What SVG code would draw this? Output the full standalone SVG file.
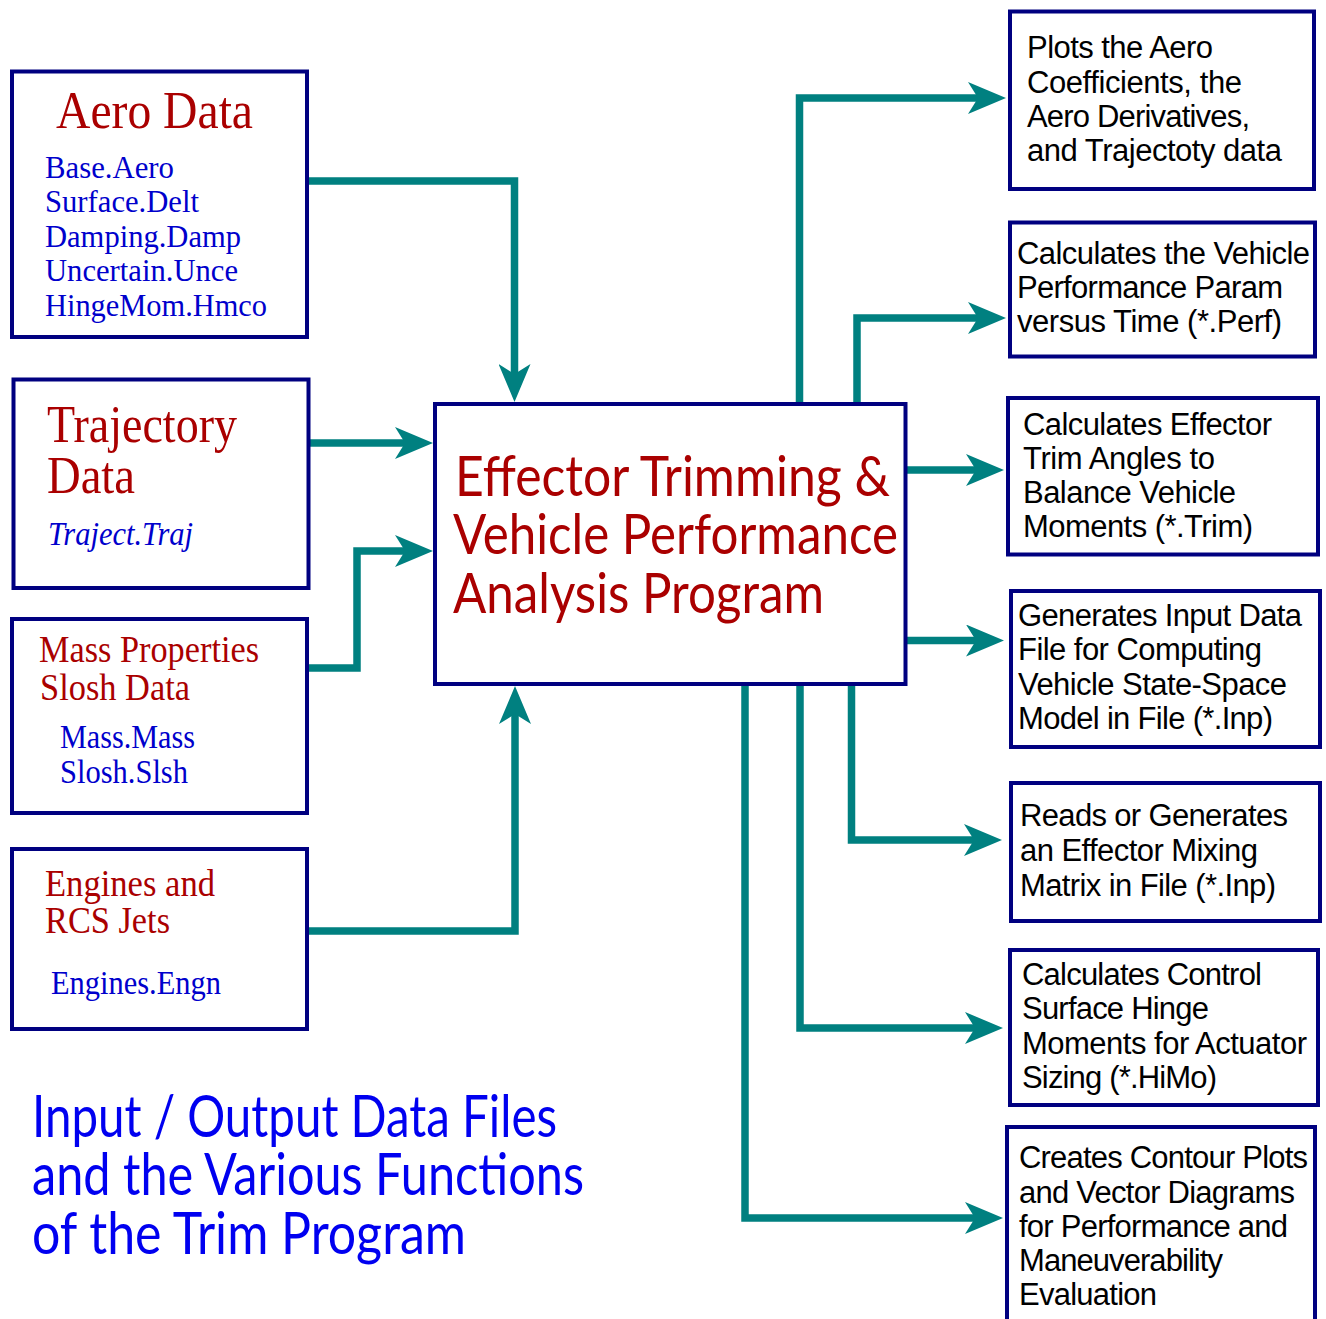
<svg xmlns="http://www.w3.org/2000/svg" width="1326" height="1319" viewBox="0 0 1326 1319">
<style>
.box{fill:#fff;stroke:#000080;stroke-width:4}
.con{fill:none;stroke:#008080;stroke-width:7.5;stroke-linejoin:miter;marker-end:url(#ah)}
.ser{font-family:"Liberation Serif","Times New Roman",serif}
.red{fill:#AA0000}
.blu{fill:#0000CC}
.ttl{font-family:Lato,"Open Sans",sans-serif}
.txt{font-family:"Liberation Sans",Arial,sans-serif;font-size:31px;fill:#000}
</style>
<defs>
<marker id="ah" viewBox="0 0 38 32" refX="10" refY="16" markerWidth="38" markerHeight="32" markerUnits="userSpaceOnUse" orient="auto">
<path d="M0,0 L38,16 L0,32 L10,16 Z" fill="#008080"/>
</marker>
</defs>
<rect width="1326" height="1319" fill="#fff"/>

<g id="connectors">
<path class="con" d="M309,181 H514.5 V374"/>
<path class="con" d="M310,443 H405"/>
<path class="con" d="M309,668 H357 V551 H405"/>
<path class="con" d="M309,931 H515 V714"/>
<path class="con" d="M799.5,404 V98 H978"/>
<path class="con" d="M857,404 V318 H978"/>
<path class="con" d="M907,470 H976"/>
<path class="con" d="M907,640.5 H976"/>
<path class="con" d="M851.5,684 V840 H974"/>
<path class="con" d="M800,684 V1028 H975"/>
<path class="con" d="M745,684 V1218 H975"/>
</g>

<g id="aero-data">
<rect class="box" x="12" y="71.5" width="295" height="265.5"/>
<text class="ser red" x="56" y="128" font-size="52" textLength="197" lengthAdjust="spacingAndGlyphs">Aero Data</text>
<g class="ser blu" font-size="32">
<text x="45" y="178" textLength="129" lengthAdjust="spacingAndGlyphs">Base.Aero</text>
<text x="45" y="212" textLength="154" lengthAdjust="spacingAndGlyphs">Surface.Delt</text>
<text x="45" y="247" textLength="196" lengthAdjust="spacingAndGlyphs">Damping.Damp</text>
<text x="45" y="281" textLength="193" lengthAdjust="spacingAndGlyphs">Uncertain.Unce</text>
<text x="45" y="316" textLength="222" lengthAdjust="spacingAndGlyphs">HingeMom.Hmco</text>
</g>
</g>

<g id="trajectory-data">
<rect class="box" x="13.5" y="379.5" width="295" height="208.5"/>
<text class="ser red" x="47" y="442" font-size="52" textLength="190" lengthAdjust="spacingAndGlyphs">Trajectory</text>
<text class="ser red" x="47" y="493" font-size="52" textLength="88" lengthAdjust="spacingAndGlyphs">Data</text>
<text class="ser blu" x="48" y="545" font-size="33" font-style="italic" textLength="145" lengthAdjust="spacingAndGlyphs">Traject.Traj</text>
</g>

<g id="mass-properties">
<rect class="box" x="12" y="619" width="295" height="194"/>
<text class="ser red" x="39" y="662" font-size="38" textLength="220" lengthAdjust="spacingAndGlyphs">Mass Properties</text>
<text class="ser red" x="40" y="700" font-size="38" textLength="150" lengthAdjust="spacingAndGlyphs">Slosh Data</text>
<text class="ser blu" x="60" y="748" font-size="33" textLength="135" lengthAdjust="spacingAndGlyphs">Mass.Mass</text>
<text class="ser blu" x="60" y="783" font-size="33" textLength="128" lengthAdjust="spacingAndGlyphs">Slosh.Slsh</text>
</g>

<g id="engines">
<rect class="box" x="12" y="849" width="295" height="180"/>
<text class="ser red" x="45" y="896" font-size="38" textLength="170" lengthAdjust="spacingAndGlyphs">Engines and</text>
<text class="ser red" x="45" y="933" font-size="38" textLength="125" lengthAdjust="spacingAndGlyphs">RCS Jets</text>
<text class="ser blu" x="51" y="994" font-size="33" textLength="170" lengthAdjust="spacingAndGlyphs">Engines.Engn</text>
</g>

<g id="trim-program">
<rect class="box" x="435" y="404" width="470.5" height="280"/>
<g class="ttl red" font-size="57">
<text x="455" y="496" textLength="435" lengthAdjust="spacingAndGlyphs">Effector Trimming &amp;</text>
<text x="453" y="554" textLength="445" lengthAdjust="spacingAndGlyphs">Vehicle Performance</text>
<text x="453" y="613" textLength="371" lengthAdjust="spacingAndGlyphs">Analysis Program</text>
</g>
</g>

<g id="out-plots">
<rect class="box" x="1010" y="11.5" width="304" height="177.5"/>
<text class="txt" x="1027" y="58" textLength="186">Plots the Aero</text>
<text class="txt" x="1027" y="93" textLength="215">Coefficients, the</text>
<text class="txt" x="1027" y="127" textLength="223">Aero Derivatives,</text>
<text class="txt" x="1027" y="161" textLength="255">and Trajectoty data</text>
</g>

<g id="out-perf">
<rect class="box" x="1010" y="222.5" width="305" height="134"/>
<text class="txt" x="1017" y="264" textLength="293">Calculates the Vehicle</text>
<text class="txt" x="1017" y="298" textLength="266">Performance Param</text>
<text class="txt" x="1017" y="332" textLength="265">versus Time (*.Perf)</text>
</g>

<g id="out-trim">
<rect class="box" x="1008" y="398" width="310" height="156.5"/>
<text class="txt" x="1023" y="435" textLength="249">Calculates Effector</text>
<text class="txt" x="1023" y="469" textLength="192">Trim Angles to</text>
<text class="txt" x="1023" y="503" textLength="213">Balance Vehicle</text>
<text class="txt" x="1023" y="537" textLength="230">Moments (*.Trim)</text>
</g>

<g id="out-statespace">
<rect class="box" x="1011" y="591" width="309" height="156"/>
<text class="txt" x="1018" y="626" textLength="284">Generates Input Data</text>
<text class="txt" x="1018" y="660" textLength="244">File for Computing</text>
<text class="txt" x="1018" y="695" textLength="269">Vehicle State-Space</text>
<text class="txt" x="1018" y="729" textLength="255">Model in File (*.Inp)</text>
</g>

<g id="out-mixing">
<rect class="box" x="1011" y="783" width="309" height="138"/>
<text class="txt" x="1020" y="826" textLength="268">Reads or Generates</text>
<text class="txt" x="1020" y="861" textLength="238">an Effector Mixing</text>
<text class="txt" x="1020" y="896" textLength="256">Matrix in File (*.Inp)</text>
</g>

<g id="out-hinge">
<rect class="box" x="1010" y="950" width="308" height="155"/>
<text class="txt" x="1022" y="985" textLength="240">Calculates Control</text>
<text class="txt" x="1022" y="1019" textLength="187">Surface Hinge</text>
<text class="txt" x="1022" y="1054" textLength="285">Moments for Actuator</text>
<text class="txt" x="1022" y="1088" textLength="195">Sizing (*.HiMo)</text>
</g>

<g id="out-contour">
<rect class="box" x="1007" y="1127" width="308" height="240"/>
<text class="txt" x="1019" y="1168" textLength="289">Creates Contour Plots</text>
<text class="txt" x="1019" y="1203" textLength="276">and Vector Diagrams</text>
<text class="txt" x="1019" y="1237" textLength="269">for Performance and</text>
<text class="txt" x="1019" y="1271" textLength="204">Maneuverability</text>
<text class="txt" x="1019" y="1305" textLength="138">Evaluation</text>
</g>

<g id="caption" class="ttl" fill="#0000F0" font-size="59">
<text x="32" y="1137" textLength="525" lengthAdjust="spacingAndGlyphs">Input / Output Data Files</text>
<text x="32" y="1195" textLength="552" lengthAdjust="spacingAndGlyphs">and the Various Functions</text>
<text x="32" y="1254" textLength="434" lengthAdjust="spacingAndGlyphs">of the Trim Program</text>
</g>
</svg>
